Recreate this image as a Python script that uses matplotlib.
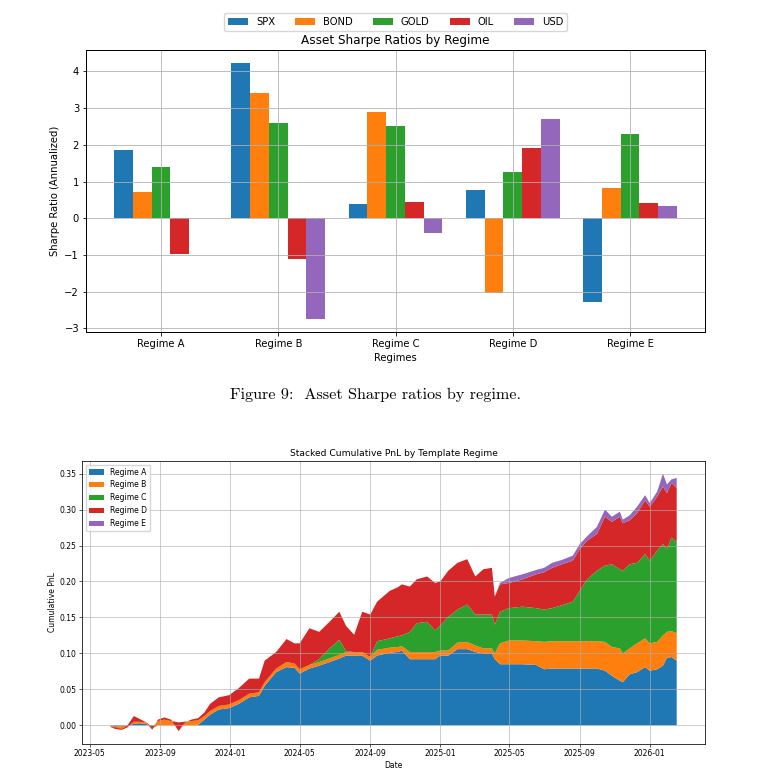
import matplotlib
matplotlib.use('Agg')
import matplotlib.pyplot as plt
import matplotlib.dates as mdates
import numpy as np
import pandas as pd

# Sharpe ratios per regime
regimes = ['Regime A', 'Regime B', 'Regime C', 'Regime D', 'Regime E']
assets = ['SPX', 'BOND', 'GOLD', 'OIL', 'USD']
spx = [1.87, 4.24, 0.39, 0.77, -2.28]
bond = [0.71, 3.40, 2.90, -2.05, 0.81]
gold = [1.39, 2.60, 2.52, 1.27, 2.29]
oil = [-0.98, -1.12, 0.43, 1.91, 0.41]
usd = [0.0, -2.74, -0.40, 2.70, 0.33]

# cumulative PnL per regime (read at selected dates)
dates = [
    "2023-06-06", "2023-06-15", "2023-06-26", "2023-07-05", "2023-07-17", "2023-07-27", "2023-08-08", "2023-08-18", "2023-08-28", "2023-09-08",
    "2023-09-20", "2023-10-03", "2023-10-14", "2023-10-25", "2023-11-06", "2023-11-17", "2023-11-27", "2023-12-12", "2023-12-30", "2024-01-16",
    "2024-02-03", "2024-02-20", "2024-03-01", "2024-03-21", "2024-04-08", "2024-04-22", "2024-05-01", "2024-05-18", "2024-06-04", "2024-06-22",
    "2024-07-09", "2024-07-21", "2024-08-04", "2024-08-18", "2024-09-01", "2024-09-13", "2024-10-05", "2024-10-19", "2024-10-26", "2024-11-09",
    "2024-11-21", "2024-12-09", "2024-12-23", "2025-01-01", "2025-01-15", "2025-01-31", "2025-02-17", "2025-03-03", "2025-03-17", "2025-04-01",
    "2025-04-06", "2025-04-15", "2025-05-01", "2025-05-24", "2025-06-17", "2025-07-01", "2025-07-15", "2025-08-01", "2025-08-20", "2025-09-01",
    "2025-09-14", "2025-10-01", "2025-10-15", "2025-10-27", "2025-11-10", "2025-11-15", "2025-11-27", "2025-12-10", "2025-12-24", "2026-01-01",
    "2026-01-14", "2026-01-24", "2026-01-31", "2026-02-08", "2026-02-17"]

regime_a = [0.000, -0.002, -0.001, 0.000, 0.002, 0.003, 0.002, -0.004, 0.000, 0.000,
            0.000, 0.000, 0.000, 0.000, 0.001, 0.008, 0.015, 0.022, 0.024, 0.030,
            0.039, 0.041, 0.055, 0.074, 0.081, 0.080, 0.072, 0.079, 0.083, 0.088,
            0.093, 0.097, 0.097, 0.097, 0.090, 0.097, 0.101, 0.102, 0.104, 0.092,
            0.092, 0.092, 0.092, 0.097, 0.097, 0.106, 0.106, 0.102, 0.100, 0.100,
            0.092, 0.085, 0.085, 0.085, 0.084, 0.078, 0.079, 0.079, 0.079, 0.079,
            0.079, 0.079, 0.076, 0.069, 0.062, 0.060, 0.071, 0.074, 0.081, 0.076,
            0.078, 0.083, 0.094, 0.095, 0.090]
regime_b = [-0.002, -0.003, -0.005, -0.003, 0.003, 0.002, 0.002, 0.001, 0.006, 0.008,
            0.006, 0.004, 0.005, 0.006, 0.006, 0.005, 0.005, 0.005, 0.005, 0.005,
            0.005, 0.005, 0.005, 0.005, 0.007, 0.006, 0.006, 0.005, 0.005, 0.005,
            0.005, 0.005, 0.005, 0.005, 0.005, 0.008, 0.007, 0.007, 0.006, 0.010,
            0.010, 0.010, 0.010, 0.007, 0.007, 0.009, 0.010, 0.009, 0.007, 0.007,
            0.008, 0.029, 0.033, 0.033, 0.033, 0.038, 0.038, 0.038, 0.038, 0.038,
            0.038, 0.038, 0.040, 0.040, 0.045, 0.040, 0.036, 0.040, 0.040, 0.038,
            0.038, 0.042, 0.036, 0.036, 0.038]
regime_c = [0.0] * 28 + [
            0.004, 0.014, 0.021, 0.001, 0.000, 0.000, 0.000, 0.012, 0.013, 0.015, 0.015, 0.028,
            0.040, 0.042, 0.030, 0.035, 0.047, 0.046, 0.052, 0.043, 0.047, 0.047,
            0.040, 0.044, 0.045, 0.047, 0.046, 0.045, 0.046, 0.050, 0.055, 0.070,
            0.086, 0.098, 0.106, 0.115, 0.110, 0.115, 0.117, 0.112, 0.117, 0.115,
            0.127, 0.127, 0.115, 0.130, 0.127]
regime_d = [0.000, 0.002, 0.001, 0.002, 0.008, 0.004, 0.000, -0.003, 0.002, 0.003,
            0.002, -0.012, -0.001, 0.002, 0.003, 0.005, 0.010, 0.012, 0.013, 0.017,
            0.021, 0.019, 0.030, 0.023, 0.032, 0.028, 0.036, 0.051, 0.038, 0.037,
            0.039, 0.035, 0.024, 0.056, 0.059, 0.055, 0.066, 0.068, 0.071, 0.063,
            0.061, 0.063, 0.066, 0.061, 0.064, 0.065, 0.063, 0.053, 0.063, 0.065,
            0.039, 0.038, 0.035, 0.038, 0.047, 0.052, 0.056, 0.057, 0.057, 0.058,
            0.054, 0.051, 0.068, 0.059, 0.073, 0.066, 0.061, 0.069, 0.075, 0.075,
            0.075, 0.080, 0.078, 0.076, 0.075]
regime_e = [0.0] * 51 + [
            0.002, 0.007, 0.007, 0.006, 0.006, 0.007, 0.006, 0.007, 0.007,
            0.006, 0.010, 0.010, 0.007, 0.007, 0.005, 0.007, 0.009, 0.007, 0.005,
            0.007, 0.018, 0.012, 0.005, 0.014]


def shrink(ax, s):
    # both panels are scaled-down figures; scale fonts and lines to match
    ax.tick_params(labelsize=10 * s, length=3.5 * s, width=0.8 * s, pad=3.5 * s)
    for sp in ax.spines.values():
        sp.set_linewidth(1.0 * s)
    ax.grid(True, linewidth=0.8 * s)


fig = plt.figure(figsize=(7.58, 7.73), dpi=100)

# top: grouped bars
s1 = 0.72
ax1 = fig.add_axes([0.1135, 0.571, 0.8166, 0.3646])
x = np.arange(len(regimes))
w = 0.16
for i, (name, vals) in enumerate(zip(assets, [spx, bond, gold, oil, usd])):
    ax1.bar(x + (i - 2) * w, vals, w, label=name)
ax1.set_xticks(x)
ax1.set_xticklabels(regimes)
ax1.set_xlabel('Regimes', fontsize=10 * s1, labelpad=4 * s1)
ax1.set_ylabel('Sharpe Ratio (Annualized)', fontsize=10 * s1, labelpad=4 * s1)
ax1.set_title('Asset Sharpe Ratios by Regime', fontsize=12 * s1, pad=6 * s1)
ax1.legend(loc='center', bbox_to_anchor=(0.5, 1.10), ncol=5, fontsize=10 * s1)
shrink(ax1, s1)

fig.text(0.496, 0.489, 'Figure 9:  Asset Sharpe ratios by regime.',
         family=['cmr10', 'DejaVu Serif'], fontsize=11.7, ha='center', va='center')

# bottom: stacked cumulative PnL
s2 = 0.55
ax2 = fig.add_axes([0.1082, 0.0375, 0.8219, 0.3665])
t = pd.to_datetime(dates)
ax2.stackplot(t, regime_a, regime_b, regime_c, regime_d, regime_e,
              labels=['Regime A', 'Regime B', 'Regime C', 'Regime D', 'Regime E'])
ax2.xaxis.set_major_locator(mdates.MonthLocator(bymonth=[1, 5, 9]))
ax2.xaxis.set_major_formatter(mdates.DateFormatter('%Y-%m'))
ax2.set_xlabel('Date', fontsize=10 * s2, labelpad=4 * s2)
ax2.set_ylabel('Cumulative PnL', fontsize=10 * s2, labelpad=4 * s2)
ax2.set_title('Stacked Cumulative PnL by Template Regime', fontsize=12 * s2, pad=6 * s2)
ax2.legend(loc='upper left', fontsize=10 * s2)
shrink(ax2, s2)

fig.savefig('out.png', dpi=100)
